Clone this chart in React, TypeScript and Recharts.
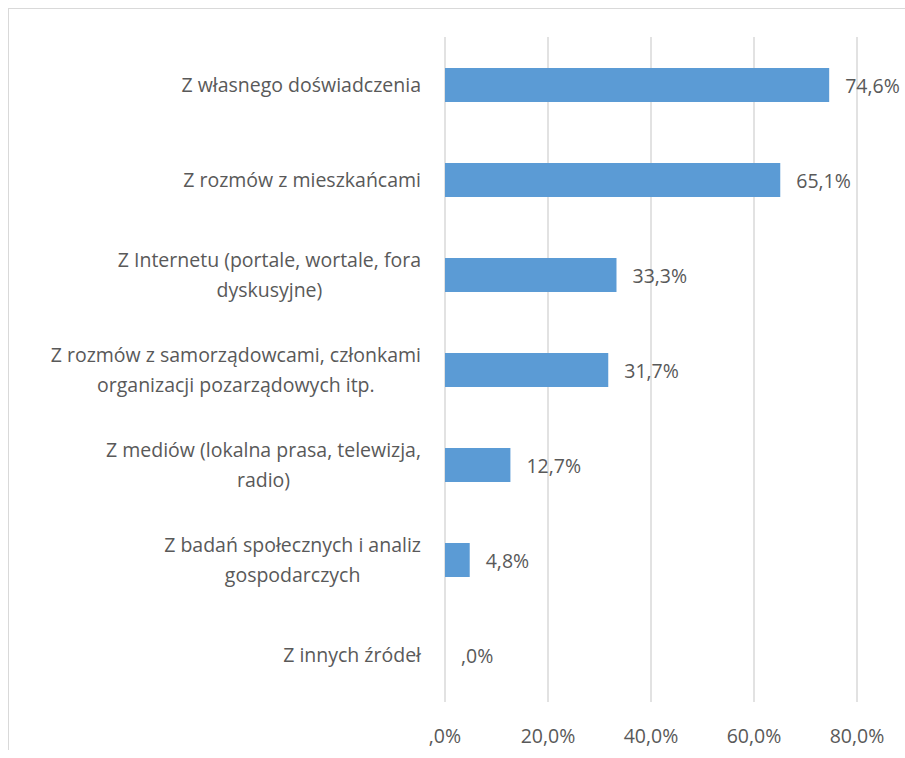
import { Bar, BarChart, CartesianGrid, LabelList, Rectangle, XAxis, YAxis } from "recharts";

const categories = [
  "Z własnego doświadczenia",
  "Z rozmów z mieszkańcami",
  "Z Internetu (portale, wortale, fora\ndyskusyjne)",
  "Z rozmów z samorządowcami, członkami\norganizacji pozarządowych itp.",
  "Z mediów (lokalna prasa, telewizja,\nradio)",
  "Z badań społecznych i analiz\ngospodarczych",
  "Z innych źródeł",
];
const values = [74.6, 65.1, 33.3, 31.7, 12.7, 4.8, 0];
const xTicks = [0, 20, 40, 60, 80];

const FONT = "'Open Sans', sans-serif";
const FONT_SIZE = 19.5;
const TEXT = "#595959";

// chart runs to the right edge of the window, so drop the body margin and pad ourselves
document.documentElement.style.overflow = "hidden";
document.body.style.margin = "0";

const data = categories.map((name, i) => ({ name, value: values[i] }));

// Excel style: comma decimal, no leading zero
const fmt = (v: number) => {
  const s = v.toFixed(1).replace(".", ",");
  return (s.startsWith("0,") ? s.slice(1) : s) + "%";
};

let ctx: CanvasRenderingContext2D | null = null;
const measure = (s: string) => {
  if (!ctx) ctx = document.createElement("canvas").getContext("2d");
  if (!ctx) return s.length * FONT_SIZE * 0.5;
  ctx.font = `${FONT_SIZE}px ${FONT}`;
  return ctx.measureText(s).width;
};

const CategoryTick = (props: any) => {
  const { y, payload } = props;
  const lines = String(payload.value).split("\n");
  const right = 412;
  const w = Math.max(...lines.map(measure));
  const cx = right - w / 2;
  const lh = 30;
  const y0 = y - ((lines.length - 1) * lh) / 2;
  return (
    <g>
      {lines.map((l, i) => (
        <text
          key={i}
          x={cx}
          y={y0 + i * lh}
          textAnchor="middle"
          dominantBaseline="central"
          fill={TEXT}
          fontSize={FONT_SIZE}
          fontFamily={FONT}
        >
          {l}
        </text>
      ))}
    </g>
  );
};

const PctTick = (props: any) => {
  const { x, y, payload } = props;
  return (
    <text
      x={x}
      y={y + 25}
      textAnchor="middle"
      dominantBaseline="central"
      fill={TEXT}
      fontSize={FONT_SIZE}
      fontFamily={FONT}
    >
      {fmt(payload.value)}
    </text>
  );
};

// zero bars get a 1px placeholder (minPointSize) so the label still shows; don't paint it
const BarShape = (props: any) => {
  if (!props.value) return null;
  return <Rectangle {...props} />;
};

const ValueLabel = (props: any) => {
  const { x, y, width, height, value } = props;
  const end = Number(x) + (Number(value) ? Number(width || 0) : 0);
  return (
    <text
      x={end + 16}
      y={Number(y) + Number(height) / 2}
      dominantBaseline="central"
      fill={TEXT}
      fontSize={FONT_SIZE}
      fontFamily={FONT}
    >
      {fmt(Number(value))}
    </text>
  );
};

export default function App() {
  return (
    <div
      style={{
        width: 896,
        height: 741,
        margin: "8px 0 0 8px",
        borderTop: "1px solid #d9d9d9",
        borderLeft: "1px solid #d9d9d9",
        background: "#fff",
      }}
    >
      <BarChart
        width={896}
        height={741}
        data={data}
        layout="vertical"
        margin={{ top: 28, right: 48, left: 0, bottom: 18 }}
        barCategoryGap={0}
        style={{ overflow: "visible" }}
      >
        <CartesianGrid horizontal={false} stroke="#d9d9d9" strokeWidth={1.5} />
        <XAxis
          type="number"
          domain={[0, 80]}
          ticks={xTicks}
          tick={<PctTick />}
          axisLine={false}
          tickLine={false}
          height={30}
        />
        <YAxis
          type="category"
          dataKey="name"
          width={436}
          tick={<CategoryTick />}
          axisLine={false}
          tickLine={false}
          interval={0}
        />
        <Bar
          dataKey="value"
          fill="#5b9bd5"
          barSize={34}
          minPointSize={1}
          shape={<BarShape />}
          isAnimationActive={false}
        >
          <LabelList dataKey="value" content={<ValueLabel />} />
        </Bar>
      </BarChart>
    </div>
  );
}
